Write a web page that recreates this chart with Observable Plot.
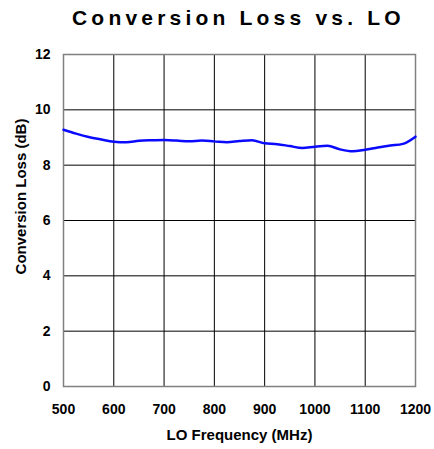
<!DOCTYPE html>
<html><head><meta charset="utf-8">
<script src="https://cdn.jsdelivr.net/npm/d3@7"></script>
<script src="https://cdn.jsdelivr.net/npm/@observablehq/plot@0.6"></script>
<style>
body{margin:0;background:#fff;font-family:"Liberation Sans",Arial,sans-serif;}
#title{box-sizing:border-box;height:40px;width:434px;padding-left:72px;padding-top:6px;line-height:24px;font-size:21px;font-weight:bold;letter-spacing:4.2px;text-align:left;color:#000;white-space:nowrap;}
</style></head><body>
<div id="chart"><div id="title">Conversion Loss vs. LO</div></div>
<script>
const freq = [500,525,550,575,600,625,650,675,700,725,750,775,800,825,850,875,900,925,950,975,1000,1025,1050,1075,1100,1125,1150,1175,1200];
const loss = [9.28,9.14,9.02,8.93,8.85,8.83,8.88,8.90,8.91,8.89,8.86,8.89,8.86,8.83,8.87,8.90,8.79,8.76,8.69,8.62,8.67,8.70,8.57,8.50,8.56,8.64,8.71,8.77,9.03];
const xTicks = [500,600,700,800,900,1000,1100,1200];
const yTicks = [0,2,4,6,8,10,12];
const xLabel = "LO Frequency (MHz)";
const yLabel = "Conversion Loss (dB)";
const data = freq.map((f,i)=>({f, v: loss[i]}));
const plot = Plot.plot({
  width:434, height:409, marginTop:14, marginBottom:63, marginLeft:63, marginRight:19,
  style:{fontFamily:"'Liberation Sans', Arial, sans-serif", fontSize:"14px", fontWeight:"bold", color:"#000", background:"#fff", overflow:"visible"},
  x:{domain:[500,1200]},
  y:{domain:[0,12]},
  marks:[
    Plot.gridX(xTicks,{stroke:"#000",strokeOpacity:1,strokeWidth:1}),
    Plot.gridY(yTicks,{stroke:"#000",strokeOpacity:1,strokeWidth:1}),
    Plot.frame({stroke:"#808080",strokeWidth:1.5}),
    Plot.line(data,{x:"f",y:"v",stroke:"#0a0aff",strokeWidth:2.5,curve:"monotone-x"}),
    Plot.axisX(xTicks,{tickSize:0,tickPadding:18,fill:"#000",fontSize:14,fontWeight:"bold",tickFormat:d=>String(d),label:null}),
    Plot.axisY(yTicks,{tickSize:0,tickPadding:13,fill:"#000",fontSize:14,fontWeight:"bold",tickFormat:d=>String(d),label:null}),
    Plot.text([xLabel],{frameAnchor:"bottom",dy:49,lineAnchor:"middle",fontSize:15,fontWeight:"bold",fill:"#000"}),
    Plot.text([yLabel],{frameAnchor:"left",rotate:-90,dx:-42,dy:-24,textAnchor:"middle",lineAnchor:"middle",fontSize:15,fontWeight:"bold",fill:"#000"})
  ]
});
document.getElementById("chart").appendChild(plot);
</script>
</body></html>
